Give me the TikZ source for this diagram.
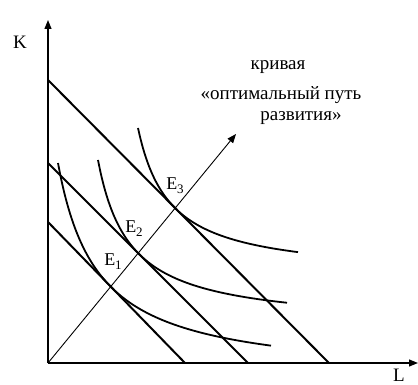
\documentclass[tikz,border=0pt]{standalone}
\usepackage{fontspec}
\setmainfont{Liberation Serif}
\usetikzlibrary{arrows.meta}
\begin{document}
\begin{tikzpicture}[x=1pt,y=-1pt,
  axis/.style={line width=1.2pt,-{Triangle[length=9pt,width=7pt]}},
  budget/.style={line width=2pt},
  isoq/.style={line width=1.8pt},
  ray/.style={line width=0.9pt,-{Triangle[length=9pt,width=7pt]}},
  lbl/.style={font=\fontsize{19}{22}\selectfont,inner sep=0pt},
  elbl/.style={font=\fontsize{18}{20}\selectfont,inner sep=0pt}]
\useasboundingbox (0,0) rectangle (418,385);
\coordinate (O) at (48,363);
\coordinate (Ktop) at (48,20);
\coordinate (Lend) at (418,363);
\draw[axis] (O) -- (Ktop);
\draw[axis] (O) -- (Lend);
\node[lbl] (K) at (20,42) {K};
\node[lbl] (L) at (399,375) {L};
% budget lines
\coordinate (a1) at (48,222); \coordinate (b1) at (185,363);
\coordinate (a2) at (48,163); \coordinate (b2) at (248,363);
\coordinate (a3) at (48,80);  \coordinate (b3) at (329,363);
\draw[budget] (a1) -- (b1);
\draw[budget] (a2) -- (b2);
\draw[budget] (a3) -- (b3);
% ray
\coordinate (R) at (236,134);
\draw[ray] (O) -- (R);
% isoquants: v = b + c/(u-a), x = 48+u, y = 363-v
\draw[isoq,domain=10:223,samples=80,smooth] plot ({48+\x},{363-(-16.6+8575/(\x+29.6))});
\draw[isoq,domain=50:239,samples=80,smooth] plot ({48+\x},{363-(36.3+5285/(\x-18.3))});
\draw[isoq,domain=90:250,samples=80,smooth] plot ({48+\x},{363-(86.2+4733/(\x-58.2))});
% labels
\node[elbl] (E1) at (113,262) {E\raisebox{-0.5ex}{\fontsize{13}{14}\selectfont 1}};
\node[elbl] (E2) at (134,229) {E\raisebox{-0.5ex}{\fontsize{13}{14}\selectfont 2}};
\node[elbl] (E3) at (175,186) {E\raisebox{-0.5ex}{\fontsize{13}{14}\selectfont 3}};
\node[lbl] (t1) at (278,67) {кривая};
\node[lbl] (t2) at (281,95) {«оптимальный путь};
\node[lbl] (t3) at (301,118) {развития»};
\end{tikzpicture}
\end{document}
